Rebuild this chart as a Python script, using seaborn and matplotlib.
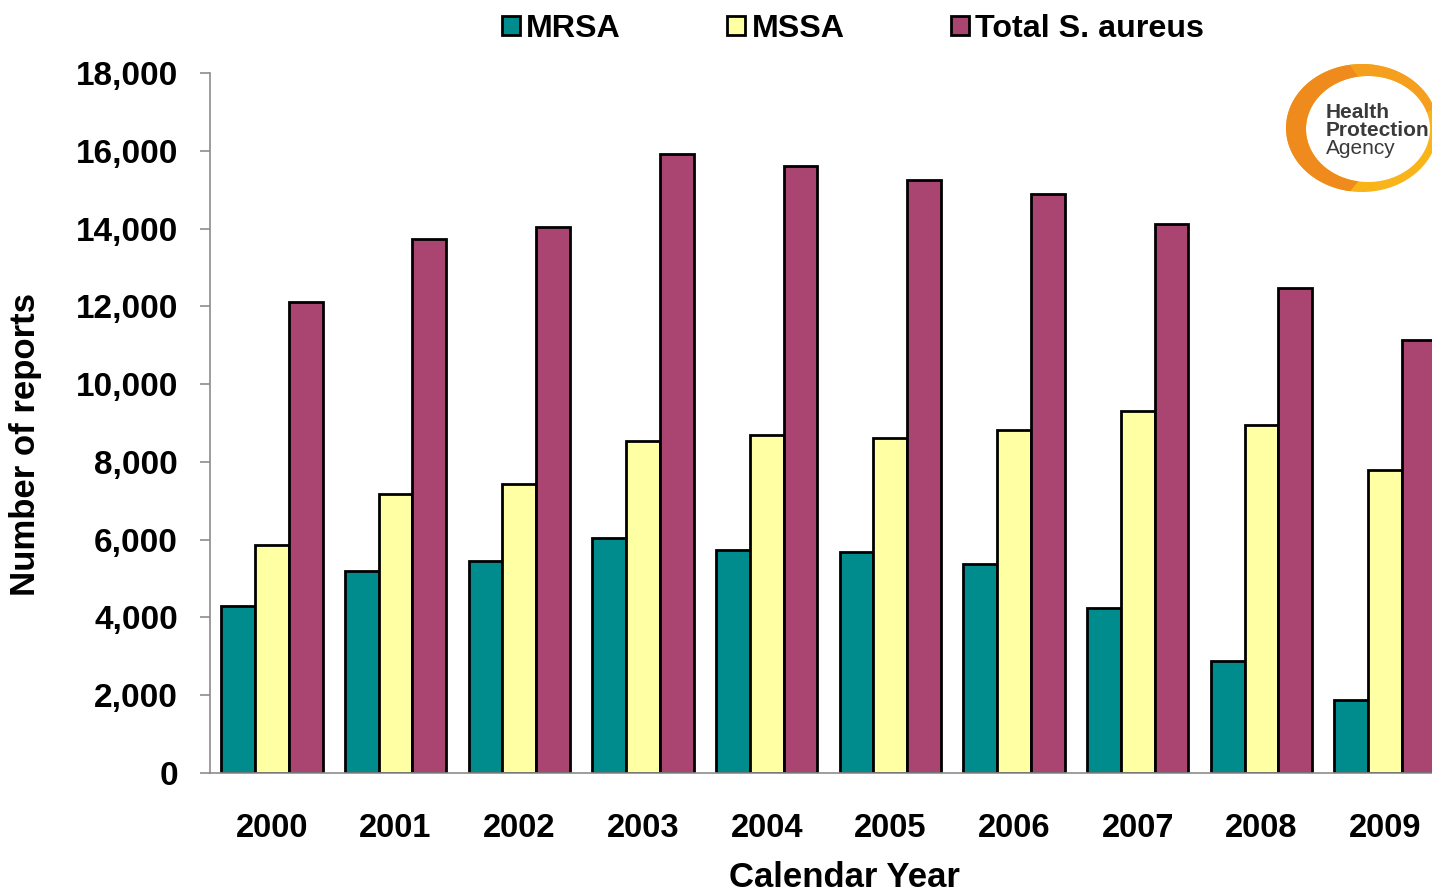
import numpy as np
import pandas as pd
import matplotlib
matplotlib.use("Agg")
import matplotlib.pyplot as plt
import seaborn as sns
from matplotlib.patches import Patch, Polygon

years = ["2000", "2001", "2002", "2003", "2004", "2005", "2006", "2007", "2008", "2009"]
mrsa = [4290, 5200, 5450, 6050, 5730, 5680, 5370, 4240, 2880, 1870]
mssa = [5860, 7170, 7430, 8530, 8690, 8610, 8820, 9310, 8950, 7790]
total = [12110, 13730, 14040, 15930, 15610, 15250, 14890, 14120, 12470, 11130]
series_names = ["MRSA", "MSSA", "Total S. aureus"]
colors = ["#008C8C", "#FFFFA3", "#A94570"]
y_ticks = [0, 2000, 4000, 6000, 8000, 10000, 12000, 14000, 16000, 18000]

df = pd.DataFrame({
    "Year": years * 3,
    "Reports": mrsa + mssa + total,
    "Type": [series_names[0]] * 10 + [series_names[1]] * 10 + [series_names[2]] * 10,
})

sns.set_theme(style="white")
plt.rcParams["font.family"] = ["Liberation Sans", "DejaVu Sans"]
plt.rcParams["font.weight"] = "bold"
plt.rcParams["text.color"] = "black"
plt.rcParams["axes.labelcolor"] = "black"
plt.rcParams["xtick.color"] = "black"
plt.rcParams["ytick.color"] = "black"

W, H = 1432, 893
fig = plt.figure(figsize=(W / 100, H / 100), dpi=100)
ax = fig.add_axes([210 / W, 120 / H, 1237 / W, 700 / H])

sns.barplot(data=df, x="Year", y="Reports", hue="Type", palette=colors,
            width=0.82, edgecolor="black", linewidth=2.0, saturation=1,
            legend=False, ax=ax)

ax.set_xlim(-0.5, len(years) - 0.5)
ax.set_ylim(0, 18000)
ax.set_yticks(y_ticks)
ax.set_yticklabels([f"{v:,}" for v in y_ticks])

for s in ["top", "right"]:
    ax.spines[s].set_visible(False)
for s in ["left", "bottom"]:
    ax.spines[s].set_color("#8c8c8c")
    ax.spines[s].set_linewidth(1.2)

ax.set_xticks(np.arange(len(years)))
ax.set_xticklabels(years)
ax.set_xticks(np.arange(len(years)) + 0.5, minor=True)
ax.tick_params(axis="x", which="major", length=0, pad=29, labelsize=23.5, labelcolor="black")
ax.tick_params(axis="x", which="minor", length=6, width=1.2, color="#8c8c8c", direction="out")
ax.tick_params(axis="y", which="major", length=7, width=1.2, color="#8c8c8c",
               direction="out", pad=16, labelsize=24, left=True, labelcolor="black")
for lab in ax.get_xticklabels() + ax.get_yticklabels():
    lab.set_fontweight("bold")

ax.set_xlabel("Calendar Year", fontsize=25, fontweight="bold", color="black")
ax.set_ylabel("Number of reports", fontsize=25, fontweight="bold", color="black")
ax.xaxis.set_label_coords(0.513, -0.126)
ax.yaxis.set_label_coords(-0.136, 0.47)

handles = [Patch(facecolor=c, edgecolor="black", linewidth=2.0) for c in colors]
fig.legend(handles, series_names, loc="center", bbox_to_anchor=(853 / W, 1 - 29 / H),
           ncol=3, frameon=False, handlelength=0.55, handleheight=0.55,
           handletextpad=0.2, columnspacing=3.3, prop={"weight": "bold", "size": 23.2},
           labelcolor="black")

# Logo (decoration) drawn in pixel coordinates
lax = fig.add_axes([0, 0, 1, 1], zorder=5)
lax.set_xlim(0, W)
lax.set_ylim(H, 0)
lax.axis("off")
t = np.linspace(0, 2 * np.pi, 200)
cx, cy = 1362, 128
outer = np.column_stack([cx + 76 * np.cos(t), cy + 64 * np.sin(t)])
inner = np.column_stack([cx + 6 + 62 * np.cos(t[::-1]), cy + 1 + 53 * np.sin(t[::-1])])
lax.add_patch(Polygon(np.vstack([outer, inner]), closed=True, facecolor="#F8B418",
                      edgecolor="none"))
ang = np.linspace(np.pi * 0.55, np.pi * 1.45, 100)
o2 = np.column_stack([cx + 76 * np.cos(ang), cy + 64 * np.sin(ang)])
i2 = np.column_stack([cx + 6 + 62 * np.cos(ang[::-1]), cy + 1 + 53 * np.sin(ang[::-1])])
lax.add_patch(Polygon(np.vstack([o2, i2]), closed=True, facecolor="#EF8A1C", edgecolor="none"))
ang3 = np.linspace(np.pi * 1.45, np.pi * 1.9, 60)
o3 = np.column_stack([cx + 76 * np.cos(ang3), cy + 64 * np.sin(ang3)])
i3 = np.column_stack([cx + 6 + 62 * np.cos(ang3[::-1]), cy + 1 + 53 * np.sin(ang3[::-1])])
lax.add_patch(Polygon(np.vstack([o3, i3]), closed=True, facecolor="#F4A01E", edgecolor="none"))
for txt, yy in [("Health", 112), ("Protection", 130), ("Agency", 149)]:
    lax.text(1326, yy, txt, fontsize=15, color="#3a3a3a", va="center", ha="left",
             fontweight="bold" if txt != "Agency" else "normal")

fig.savefig("out.png", dpi=100)
